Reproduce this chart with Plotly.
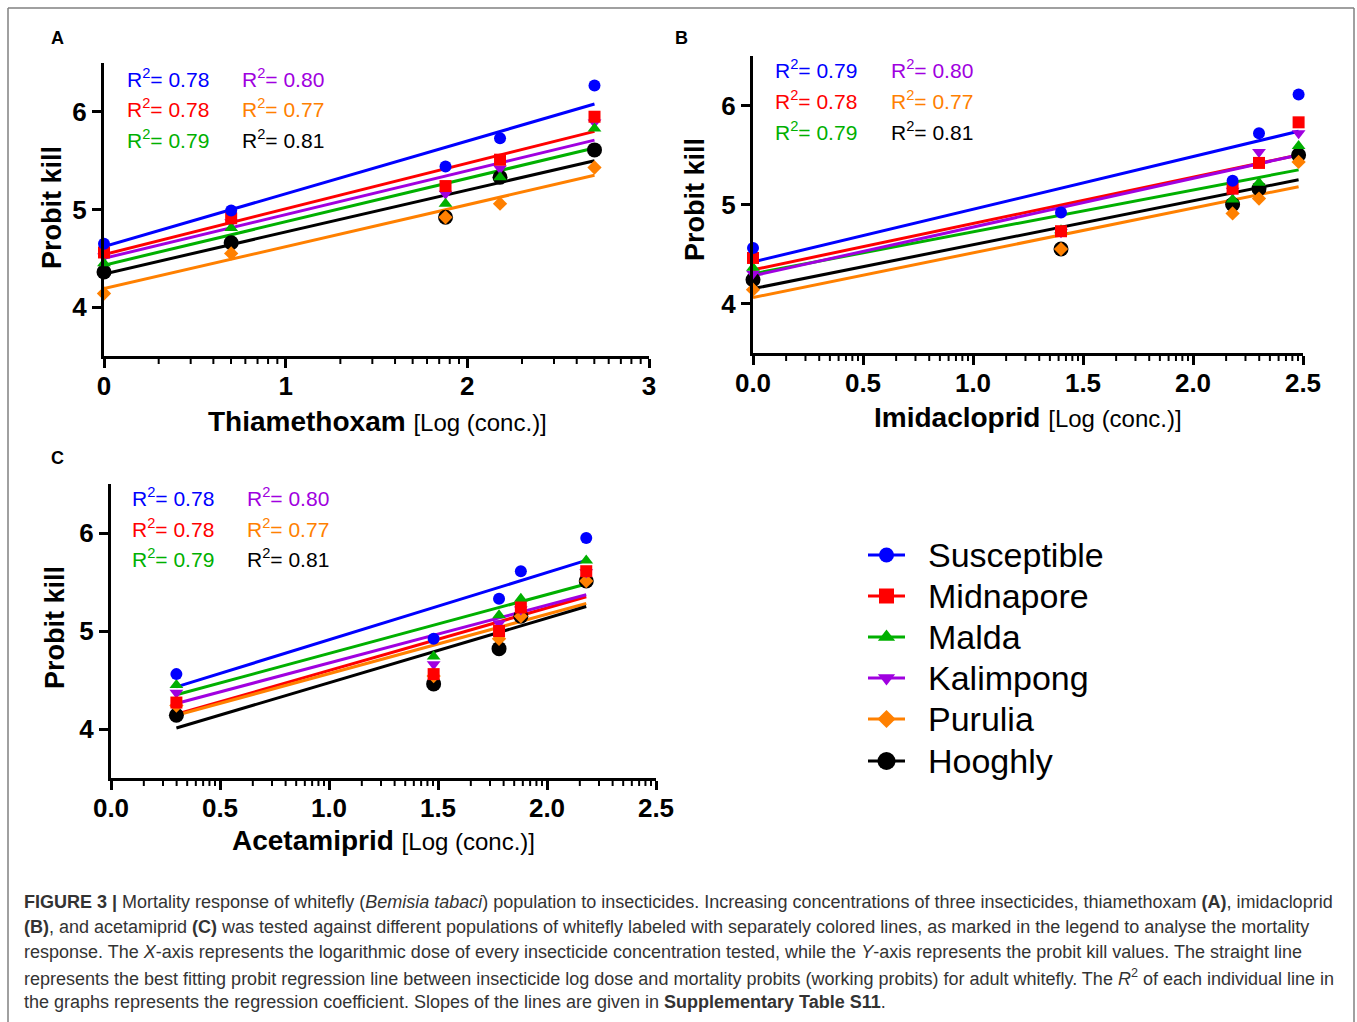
import numpy as np
import plotly.graph_objects as go

W, H = 1357, 1022

populations = ["Susceptible", "Midnapore", "Malda", "Kalimpong", "Purulia", "Hooghly"]
colors = ["#0000FF", "#FF0000", "#00B000", "#A000E0", "#FF8000", "#000000"]
symbols = ["circle", "square", "triangle-up", "triangle-down", "diamond", "circle"]
msizes = [12, 12, 12, 12, 11, 15]

# ---- Panel A: Thiamethoxam ----
xA = [0.0, 0.70, 1.88, 2.18, 2.70]
A_Susceptible = [4.65, 4.99, 5.44, 5.73, 6.27]
A_Midnapore = [4.56, 4.91, 5.24, 5.51, 5.95]
A_Malda = [4.45, 4.81, 5.06, 5.33, 5.83]
A_Kalimpong = [4.52, 4.87, 5.16, 5.42, 5.89]
A_Purulia = [4.14, 4.55, 4.92, 5.06, 5.43]
A_Hooghly = [4.36, 4.66, 4.92, 5.33, 5.61]
A_fit_start = [4.62, 4.54, 4.43, 4.50, 4.19, 4.34]
A_fit_end = [6.08, 5.80, 5.63, 5.71, 5.35, 5.50]
A_r2 = ["0.78", "0.78", "0.79", "0.80", "0.77", "0.81"]

# ---- Panel B: Imidacloprid ----
xB = [0.0, 1.40, 2.18, 2.30, 2.48]
B_Susceptible = [4.56, 4.92, 5.24, 5.72, 6.11]
B_Midnapore = [4.46, 4.73, 5.16, 5.42, 5.83]
B_Malda = [4.36, 4.74, 5.05, 5.22, 5.59]
B_Kalimpong = [4.30, 4.72, 5.14, 5.53, 5.72]
B_Purulia = [4.14, 4.55, 4.91, 5.06, 5.43]
B_Hooghly = [4.24, 4.55, 5.00, 5.16, 5.50]
B_fit_start = [4.42, 4.34, 4.30, 4.28, 4.06, 4.15]
B_fit_end = [5.74, 5.50, 5.35, 5.50, 5.18, 5.25]
B_r2 = ["0.79", "0.78", "0.79", "0.80", "0.77", "0.81"]

# ---- Panel C: Acetamiprid ----
xC = [0.30, 1.48, 1.78, 1.88, 2.18]
C_Susceptible = [4.56, 4.92, 5.33, 5.61, 5.95]
C_Midnapore = [4.27, 4.56, 5.00, 5.24, 5.61]
C_Malda = [4.45, 4.74, 5.16, 5.33, 5.72]
C_Kalimpong = [4.37, 4.66, 5.08, 5.22, 5.60]
C_Purulia = [4.24, 4.54, 4.92, 5.15, 5.51]
C_Hooghly = [4.14, 4.46, 4.82, 5.15, 5.51]
C_fit_start = [4.43, 4.15, 4.35, 4.26, 4.14, 4.01]
C_fit_end = [5.72, 5.35, 5.48, 5.37, 5.28, 5.25]
C_r2 = ["0.78", "0.78", "0.79", "0.80", "0.77", "0.81"]

xtick_A = [0, 1, 2, 3]
xtick_A_text = ["0", "1", "2", "3"]
xtick_BC = [0.0, 0.5, 1.0, 1.5, 2.0, 2.5]
xtick_BC_text = ["0.0", "0.5", "1.0", "1.5", "2.0", "2.5"]
ytick = [4, 5, 6]
ytick_text = ["4", "5", "6"]

panels = [
    dict(x=xA, ys=[A_Susceptible, A_Midnapore, A_Malda, A_Kalimpong, A_Purulia, A_Hooghly],
         fs=A_fit_start, fe=A_fit_end, r2=A_r2, xr=[0, 3], xt=xtick_A, xtt=xtick_A_text, step=1.0,
         dom=(104, 649, 63, 356), xtitle="Thiamethoxam", xt_pos=(377, 421), yt_pos=(52, 208),
         r2_pos=(125, 240, [78, 108, 139]), letter="A", letter_pos=(57, 38)),
    dict(x=xB, ys=[B_Susceptible, B_Midnapore, B_Malda, B_Kalimpong, B_Purulia, B_Hooghly],
         fs=B_fit_start, fe=B_fit_end, r2=B_r2, xr=[0, 2.5], xt=xtick_BC, xtt=xtick_BC_text, step=0.5,
         dom=(753, 1303, 56, 353), xtitle="Imidacloprid", xt_pos=(1028, 418), yt_pos=(695, 200),
         r2_pos=(773, 889, [69, 100, 131]), letter="B", letter_pos=(681, 38)),
    dict(x=xC, ys=[C_Susceptible, C_Midnapore, C_Malda, C_Kalimpong, C_Purulia, C_Hooghly],
         fs=C_fit_start, fe=C_fit_end, r2=C_r2, xr=[0, 2.5], xt=xtick_BC, xtt=xtick_BC_text, step=0.5,
         dom=(111, 656, 484, 778), xtitle="Acetamiprid", xt_pos=(383, 840), yt_pos=(55, 627),
         r2_pos=(130, 245, [497, 528, 558]), letter="C", letter_pos=(57, 458)),
]

FONT = "Liberation Sans, Arial, sans-serif"


def px(x):
    return x / W


def py(y):
    return 1 - y / H


fig = go.Figure()
annotations = []
shapes = []
layout_axes = {}

for i, p in enumerate(panels):
    n = i + 1
    xa, ya = "x%d" % n, "y%d" % n
    x0, x1 = min(p["x"]), max(p["x"])
    for k in range(6):
        fig.add_trace(go.Scatter(x=[x0, x1], y=[p["fs"][k], p["fe"][k]], mode="lines",
                                 line=dict(color=colors[k], width=3), xaxis=xa, yaxis=ya,
                                 showlegend=False, hoverinfo="skip"))
    for k in reversed(range(6)):
        fig.add_trace(go.Scatter(x=p["x"], y=p["ys"][k], mode="markers", name=populations[k],
                                 marker=dict(symbol=symbols[k], size=msizes[k], color=colors[k],
                                             line=dict(width=0)),
                                 xaxis=xa, yaxis=ya, showlegend=False, cliponaxis=False))
    l, r, t, b = p["dom"]
    step = p["step"]
    # log-spaced minor ticks between major ticks, drawn with the x scale
    v = p["xr"][0]
    while v < p["xr"][1] - 1e-9:
        for m in range(2, 10):
            mv = float(v + step * np.log10(m))
            shapes.append(dict(type="line", xref=xa, yref="paper", x0=mv, x1=mv,
                               y0=py(b + 1), y1=py(b + 8), line=dict(color="black", width=2)))
        v += step
    layout_axes["xaxis%d" % n] = dict(
        domain=[px(l), px(r)], range=p["xr"], anchor=ya, showline=True, linewidth=3,
        linecolor="black", ticks="outside", ticklen=9, tickwidth=3, tickcolor="black",
        tickmode="array", tickvals=p["xt"], ticktext=["<b>%s</b>" % s for s in p["xtt"]],
        showgrid=False, zeroline=False, fixedrange=True, ticklabelstandoff=-4,
        tickfont=dict(family=FONT, size=26, color="black"))
    layout_axes["yaxis%d" % n] = dict(
        domain=[py(b), py(t)], range=[3.5, 6.5], anchor=xa, showline=True, linewidth=3,
        linecolor="black", ticks="outside", ticklen=9, tickwidth=3, tickcolor="black",
        tickmode="array", tickvals=ytick, ticktext=["<b>%s</b>" % s for s in ytick_text],
        showgrid=False, zeroline=False, fixedrange=True,
        tickfont=dict(family=FONT, size=26, color="black"))
    annotations.append(dict(
        x=px(p["xt_pos"][0]), y=py(p["xt_pos"][1]), xref="paper", yref="paper",
        text="<b>%s</b> <span style='font-size:24px'>[Log (conc.)]</span>" % p["xtitle"],
        showarrow=False, xanchor="center", yanchor="middle",
        font=dict(family=FONT, size=28, color="black")))
    annotations.append(dict(
        x=px(p["yt_pos"][0]), y=py(p["yt_pos"][1]), xref="paper", yref="paper",
        text="<b>Probit kill</b>", textangle=-90, showarrow=False,
        xanchor="center", yanchor="middle", font=dict(family=FONT, size=27, color="black")))
    annotations.append(dict(
        x=px(p["letter_pos"][0]), y=py(p["letter_pos"][1]), xref="paper", yref="paper",
        text="<b>%s</b>" % p["letter"], showarrow=False, xanchor="center", yanchor="middle",
        font=dict(family=FONT, size=18, color="black")))
    c1, c2, rows = p["r2_pos"]
    for k in range(6):
        cx = c1 if k < 3 else c2
        ry = rows[k % 3]
        annotations.append(dict(
            x=px(cx), y=py(ry), xref="paper", yref="paper",
            text="R<sup>2</sup>= %s" % p["r2"][k], showarrow=False, xanchor="left",
            yanchor="middle", font=dict(family=FONT, size=21, color=colors[k])))

# legend drawn in an overlay pixel-space axis
layout_axes["xaxis4"] = dict(domain=[0, 1], range=[0, W], visible=False, fixedrange=True, anchor="y4")
layout_axes["yaxis4"] = dict(domain=[0, 1], range=[H, 0], visible=False, fixedrange=True, anchor="x4")
leg_rows = [555, 596, 637, 678, 719, 761]
for k in range(6):
    fig.add_trace(go.Scatter(x=[868, 905], y=[leg_rows[k]] * 2, mode="lines",
                             line=dict(color=colors[k], width=3), xaxis="x4", yaxis="y4",
                             showlegend=False, hoverinfo="skip"))
    fig.add_trace(go.Scatter(x=[886.5], y=[leg_rows[k]], mode="markers",
                             marker=dict(symbol=symbols[k], size=msizes[k] + 3, color=colors[k]),
                             xaxis="x4", yaxis="y4", showlegend=False, hoverinfo="skip"))
    annotations.append(dict(x=px(926), y=py(leg_rows[k]), xref="paper", yref="paper",
                            text=populations[k], showarrow=False, xanchor="left", yanchor="middle",
                            font=dict(family=FONT, size=34, color="black")))

caption = [
    "<b>FIGURE 3 |</b> Mortality response of whitefly (<i>Bemisia tabaci</i>) population to insecticides. Increasing concentrations of three insecticides, thiamethoxam <b>(A)</b>, imidacloprid",
    "<b>(B)</b>, and acetamiprid <b>(C)</b> was tested against different populations of whitefly labeled with separately colored lines, as marked in the legend to analyse the mortality",
    "response. The <i>X</i>-axis represents the logarithmic dose of every insecticide concentration tested, while the <i>Y</i>-axis represents the probit kill values. The straight line",
    "represents the best fitting probit regression line between insecticide log dose and mortality probits (working probits) for adult whitefly. The <i>R</i><sup>2</sup> of each individual line in",
    "the graphs represents the regression coefficient. Slopes of the lines are given in <b>Supplementary Table S11</b>.",
]
cap_rows = [902, 927, 952, 977, 1002]
for line, ry in zip(caption, cap_rows):
    annotations.append(dict(x=px(22), y=py(ry), xref="paper", yref="paper", text=line,
                            showarrow=False, xanchor="left", yanchor="middle",
                            font=dict(family=FONT, size=18, color="#333333")))

shapes.append(dict(type="line", xref="paper", yref="paper", x0=px(8), x1=px(1354), y0=py(8), y1=py(8),
                   line=dict(color="#808080", width=1.5)))
shapes.append(dict(type="line", xref="paper", yref="paper", x0=px(8), x1=px(8), y0=py(8), y1=0,
                   line=dict(color="#808080", width=1.5)))
shapes.append(dict(type="line", xref="paper", yref="paper", x0=px(1354), x1=px(1354), y0=py(8), y1=0,
                   line=dict(color="#808080", width=1.5)))

fig.update_layout(**layout_axes)
fig.update_layout(width=W, height=H, autosize=False, margin=dict(l=0, r=0, t=0, b=0, autoexpand=False),
                  paper_bgcolor="white", plot_bgcolor="rgba(0,0,0,0)", showlegend=False,
                  annotations=annotations, shapes=shapes,
                  font=dict(family=FONT, color="black"))

fig.write_html("out.html", include_plotlyjs=True, config={"displayModeBar": False},
               post_script="document.body.style.margin='0';document.body.style.overflow='hidden';")
